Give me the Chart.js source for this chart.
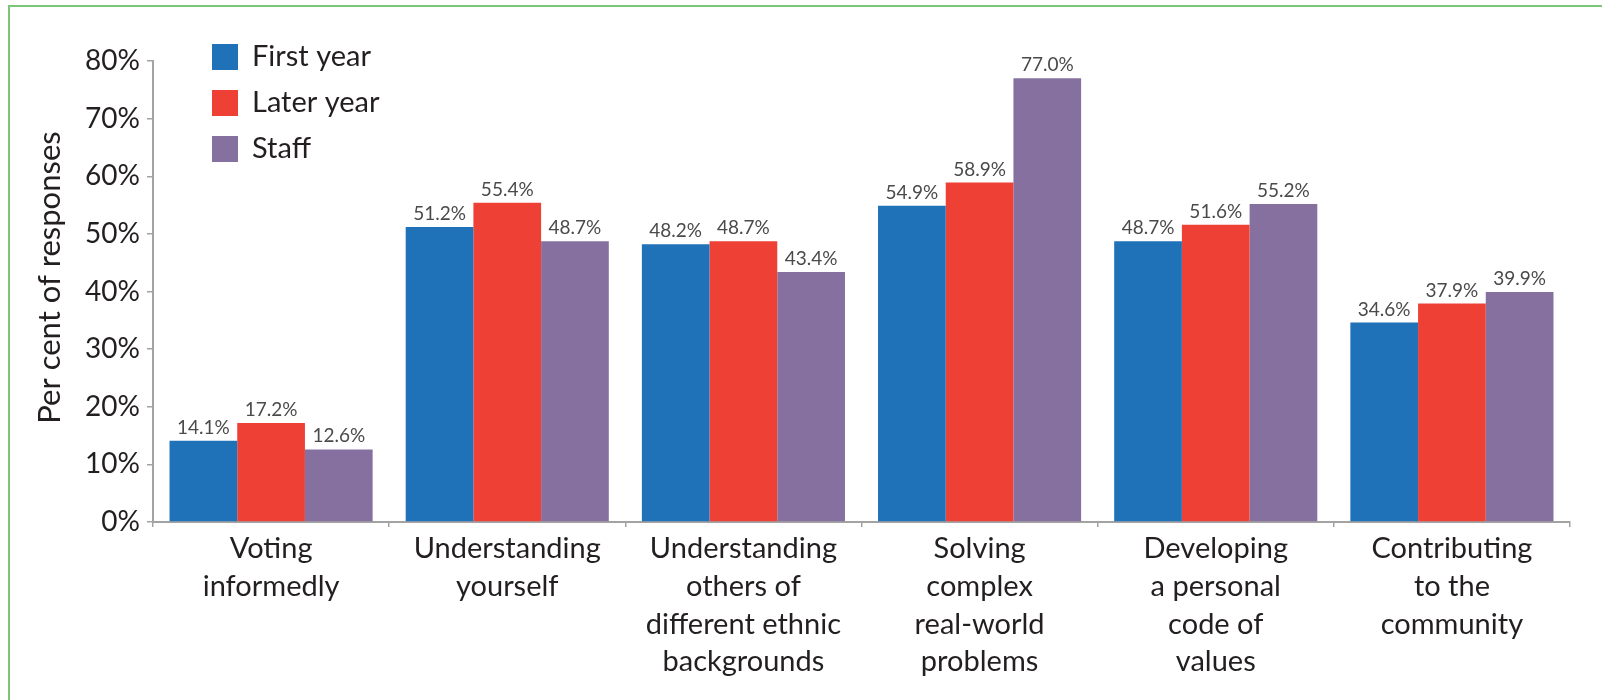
<!DOCTYPE html>
<html>
<head>
<meta charset="utf-8">
<script src="https://cdn.jsdelivr.net/npm/chart.js@4.4.0/dist/chart.umd.min.js"></script>
<style>
  html, body { margin: 0; padding: 0; background: #fff; }
  #wrap { position: relative; width: 1602px; height: 700px; }
  #frame {
    position: absolute; left: 8px; top: 5px; right: -10px; bottom: -10px;
    border-top: 2px solid #7cc576; border-left: 2px solid #7cc576;
  }
  canvas { position: absolute; left: 0; top: 0; }
</style>
</head>
<body>
<div id="wrap">
  <div id="frame"></div>
  <canvas id="chart" width="1602" height="700"></canvas>
</div>
<script>
const categories = [
  ['Voting', 'informedly'],
  ['Understanding', 'yourself'],
  ['Understanding', 'others of', 'different ethnic', 'backgrounds'],
  ['Solving', 'complex', 'real-world', 'problems'],
  ['Developing', 'a personal', 'code of', 'values'],
  ['Contributing', 'to the', 'community']
];
const firstYear = [14.1, 51.2, 48.2, 54.9, 48.7, 34.6];
const laterYear = [17.2, 55.4, 48.7, 58.9, 51.6, 37.9];
const staff = [12.6, 48.7, 43.4, 77.0, 55.2, 39.9];
const yTitle = 'Per cent of responses';

const FONT = 'Lato, "Open Sans", sans-serif';
const TEXT = '#231f20';
const AXIS = '#a3a3a3';

// value labels above each bar
const barLabels = {
  id: 'barLabels',
  afterDatasetsDraw(chart) {
    const ctx = chart.ctx;
    ctx.save();
    ctx.font = '19px ' + FONT;
    ctx.fillStyle = '#4a4a4a';
    ctx.textAlign = 'center';
    ctx.textBaseline = 'alphabetic';
    chart.data.datasets.forEach((ds, i) => {
      chart.getDatasetMeta(i).data.forEach((bar, j) => {
        ctx.fillText(ds.data[j].toFixed(1) + '%', bar.x, bar.y - 7);
      });
    });
    ctx.restore();
  }
};

// legend in the top-left corner of the plot, plus the y title
// (the title sits a bit above the plot's middle, so it is drawn here)
const cornerLegend = {
  id: 'cornerLegend',
  afterDraw(chart) {
    const ctx = chart.ctx;
    ctx.save();
    ctx.font = '29px ' + FONT;
    ctx.textBaseline = 'middle';
    chart.data.datasets.forEach((ds, i) => {
      const y = 44 + i * 46;
      ctx.fillStyle = ds.backgroundColor;
      ctx.fillRect(212, y, 26, 26);
      ctx.fillStyle = TEXT;
      ctx.fillText(ds.label, 252, y + 13);
    });
    ctx.restore();

    ctx.save();
    ctx.font = '31px ' + FONT;
    ctx.fillStyle = TEXT;
    ctx.textAlign = 'center';
    ctx.textBaseline = 'middle';
    ctx.translate(50, chart.chartArea.top + chart.chartArea.height / 2 - 14);
    ctx.rotate(-Math.PI / 2);
    ctx.fillText(yTitle, 0, 0);
    ctx.restore();
  }
};

const ctx = document.getElementById('chart').getContext('2d');
new Chart(ctx, {
  type: 'bar',
  data: {
    labels: categories,
    datasets: [
      { label: 'First year', data: firstYear, backgroundColor: '#1f71b8' },
      { label: 'Later year', data: laterYear, backgroundColor: '#ef4036' },
      { label: 'Staff', data: staff, backgroundColor: '#86709f' }
    ]
  },
  options: {
    responsive: false,
    animation: false,
    categoryPercentage: 0.86,
    barPercentage: 1,
    layout: { padding: { left: 30, right: 32, top: 61, bottom: 0 } },
    plugins: {
      legend: { display: false },
      tooltip: { enabled: false }
    },
    scales: {
      x: {
        afterFit: s => { s.height = 178; },
        border: { color: AXIS, width: 2 },
        grid: { offset: true, drawOnChartArea: false, drawTicks: true, tickLength: 5, color: AXIS, lineWidth: 1.5 },
        ticks: {
          color: TEXT,
          padding: 3,
          maxRotation: 0,
          autoSkip: false,
          font: { family: FONT, size: 29, lineHeight: 1.3 }
        }
      },
      y: {
        min: 0,
        max: 80,
        afterFit: s => { s.width = 123; },
        border: { color: AXIS, width: 2 },
        grid: { drawOnChartArea: false, drawTicks: true, tickLength: 6, color: AXIS, lineWidth: 1.5 },
        ticks: {
          stepSize: 10,
          color: TEXT,
          padding: 7,
          font: { family: FONT, size: 28 },
          callback: v => v + '%'
        }
      }
    }
  },
  plugins: [barLabels, cornerLegend]
});
</script>
</body>
</html>
